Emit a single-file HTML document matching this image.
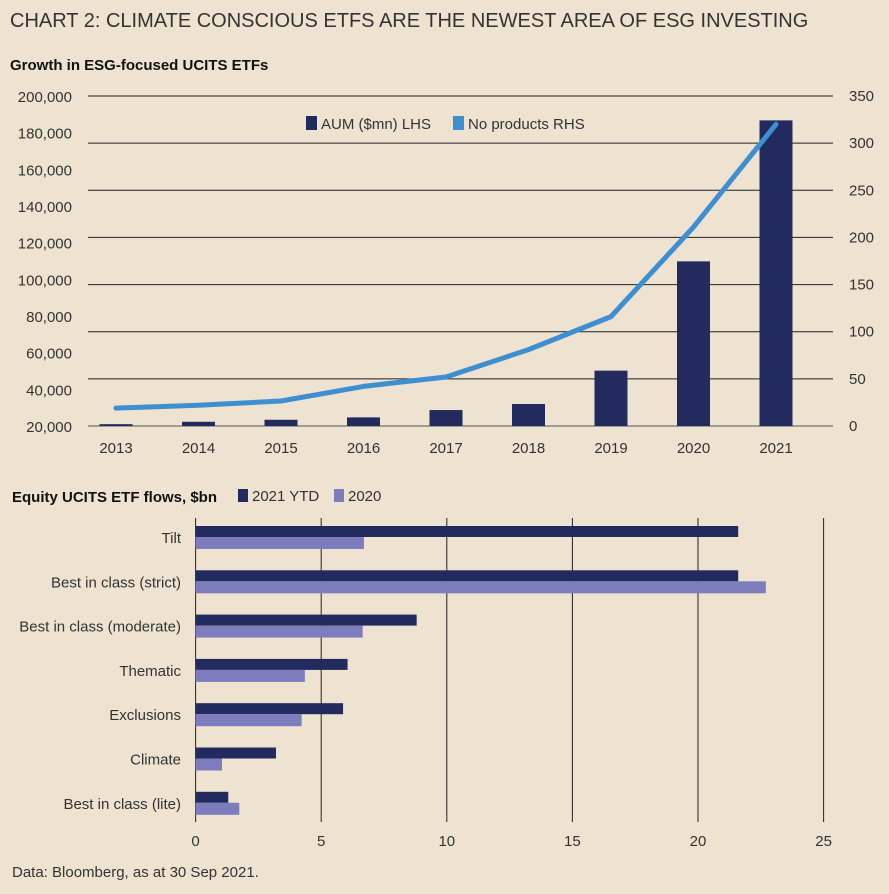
<!DOCTYPE html>
<html><head><meta charset="utf-8"><style>
body{margin:0;background:#ede3d0;}
svg{display:block;font-family:"Liberation Sans",sans-serif;}
</style></head><body>
<svg id="c" width="889" height="894" viewBox="0 0 889 894">
<rect width="889" height="894" fill="#ede3d0"/>
<text x="10" y="27" font-size="20" fill="#333">CHART 2: CLIMATE CONSCIOUS ETFS ARE THE NEWEST AREA OF ESG INVESTING</text>
<text x="10" y="70" font-size="15" font-weight="bold" fill="#111">Growth in ESG-focused UCITS ETFs</text>
<g id="topg"></g>
<text x="12" y="502" font-size="15" font-weight="bold" fill="#111">Equity UCITS ETF flows, $bn</text>
<g id="botg"></g>
<text x="12" y="877" font-size="15" fill="#333">Data: Bloomberg, as at 30 Sep 2021.</text>
</svg>
<script>
const years=["2013","2014","2015","2016","2017","2018","2019","2020","2021"];
const aum=[21000,22300,23400,24700,28700,32000,50200,109800,186700];
const products=[19,22,26.5,42,52,81,116,211,320];
const leftTicks=[20000,40000,60000,80000,100000,120000,140000,160000,180000,200000];
const rightTicks=[0,50,100,150,200,250,300,350];
const cats=["Tilt","Best in class (strict)","Best in class (moderate)","Thematic","Exclusions","Climate","Best in class (lite)"];
const ytd2021=[21.6,21.6,8.8,6.05,5.87,3.2,1.3];
const y2020=[6.7,22.7,6.65,4.35,4.22,1.05,1.74];
const xTicks=[0,5,10,15,20,25];

const NS="http://www.w3.org/2000/svg";
function mk(p,tag,at,txt){const e=document.createElementNS(NS,tag);for(const k in at)e.setAttribute(k,at[k]);if(txt!=null)e.textContent=txt;p.appendChild(e);return e;}
const gTop=document.getElementById('topg'),gBot=document.getElementById('botg');
const yL=v=>426-(v-20000)/180000*330;
const yR=v=>426-v/350*330;
const xC=i=>116+i*82.5;
rightTicks.forEach(t=>{
 const g=mk(gTop,'line',{x1:88,x2:833,y1:yR(t),y2:yR(t),stroke:t===0?'#555':'#222','stroke-width':1});
 
 
 const l=mk(gTop,'text',{x:849,y:yR(t)+5,'font-size':15,fill:'#333'},String(t));
 
 
});
leftTicks.forEach(t=>{
 const l=mk(gTop,'text',{x:72,y:yL(t)+6,'font-size':15,fill:'#333','text-anchor':'end'},t.toLocaleString('en-US'));
 
 
});
years.forEach((y,i)=>{
 const b=mk(gTop,'rect',{x:xC(i)-16.5,y:yL(aum[i]),width:33,height:426-yL(aum[i]),fill:'#222a5e'});
 
 
 const l=mk(gTop,'text',{x:xC(i),y:453,'font-size':15,fill:'#333','text-anchor':'middle'},y);
 
 
});
const ln=mk(gTop,'polyline',{points:products.map((v,i)=>xC(i)+','+yR(v)).join(' '),fill:'none',stroke:'#3d8fd1','stroke-width':5,'stroke-linejoin':'round','stroke-linecap':'round'});


let s=mk(gTop,'rect',{x:306,y:116,width:11,height:14,fill:'#222a5e'});


s=mk(gTop,'text',{x:321,y:129,'font-size':15,fill:'#333'},'AUM ($mn) LHS');


s=mk(gTop,'rect',{x:453,y:116,width:11,height:14,fill:'#3d8fd1'});


s=mk(gTop,'text',{x:468,y:129,'font-size':15,fill:'#333'},'No products RHS');


const xB=v=>195.6+v/25*628;
const gc=i=>537+i*44.3;
xTicks.forEach(t=>{
 const g=mk(gBot,'line',{x1:xB(t),x2:xB(t),y1:518,y2:822,stroke:'#222','stroke-width':1});
 
 
 const l=mk(gBot,'text',{x:xB(t),y:846,'font-size':15,fill:'#333','text-anchor':'middle'},String(t));
 
 
});
cats.forEach((c,i)=>{
 const a=mk(gBot,'rect',{x:xB(0),y:gc(i)-11,width:xB(ytd2021[i])-xB(0),height:11,fill:'#222a5e'});
 
 
 const b=mk(gBot,'rect',{x:xB(0),y:gc(i),width:xB(y2020[i])-xB(0),height:12,fill:'#7d7cbd'});
 
 
 const l=mk(gBot,'text',{x:181,y:gc(i)+6,'font-size':15,fill:'#333','text-anchor':'end'},c);
 
 
});
s=mk(gBot,'rect',{x:238,y:489,width:10,height:13,fill:'#222a5e'});


s=mk(gBot,'text',{x:252,y:501,'font-size':15,fill:'#333'},'2021 YTD');


s=mk(gBot,'rect',{x:334,y:489,width:10,height:13,fill:'#7d7cbd'});


s=mk(gBot,'text',{x:348,y:501,'font-size':15,fill:'#333'},'2020');


</script>
</body></html>
